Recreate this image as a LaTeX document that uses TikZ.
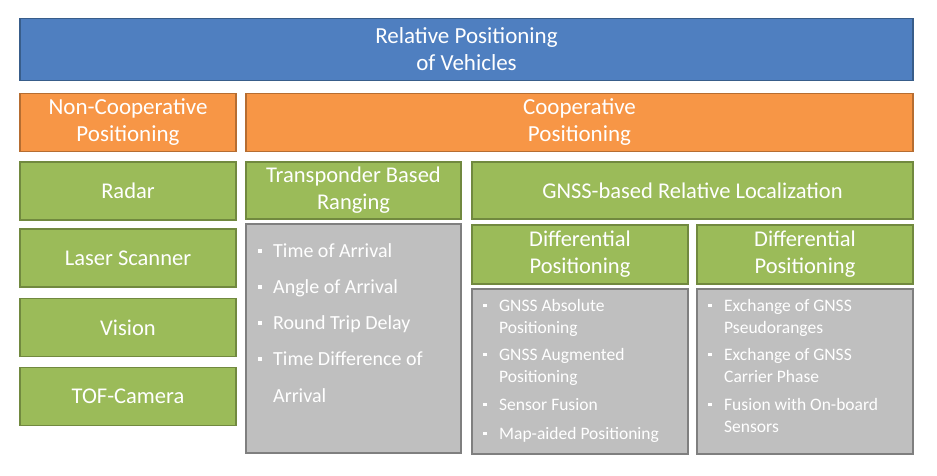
\documentclass[tikz,border=0pt]{standalone}
\usepackage{fontspec}
\setmainfont{Carlito}
\definecolor{bluef}{HTML}{4F7FC0}
\definecolor{blued}{HTML}{385D8A}
\definecolor{orangef}{HTML}{F79646}
\definecolor{oranged}{HTML}{B66D31}
\definecolor{greenf}{HTML}{9BBB59}
\definecolor{greend}{HTML}{71893F}
\definecolor{grayf}{HTML}{BFBFBF}
\definecolor{grayd}{HTML}{7F7F7F}
\tikzset{
  box/.style={draw, line width=1.5pt, inner sep=0pt, align=center, text=white},
  bluebox/.style={box, fill=bluef, draw=blued, font=\fontsize{23}{27}\selectfont},
  orangebox/.style={box, fill=orangef, draw=oranged, font=\fontsize{23}{27}\selectfont},
  greenbox/.style={box, fill=greenf, draw=greend, font=\fontsize{22.5}{27}\selectfont},
  graybox/.style={box, fill=grayf, draw=grayd},
  bigfont/.style={font=\fontsize{20}{36}\selectfont},
  smallfont/.style={font=\fontsize{17.5}{22}\selectfont},
  bigitem/.style={anchor=base west, inner sep=0pt, text=white, bigfont},
  smallitem/.style={anchor=base west, inner sep=0pt, text=white, smallfont},
  bul/.style={anchor=base, inner sep=0pt, text=white},
}
\newcommand{\sqbul}{\rule[0.45ex]{3.5pt}{3.5pt}}
\begin{document}
\begin{tikzpicture}[x=1pt,y=-1pt]
\useasboundingbox (0,0) rectangle (937,475);
% top
\node[bluebox, minimum width=893pt, minimum height=62pt] (root) at (466.5,49.5) {Relative Positioning\\of Vehicles};
% orange row
\node[orangebox, minimum width=216pt, minimum height=58pt] (noncoop) at (128,122.5) {Non-Cooperative\\Positioning};
\node[orangebox, minimum width=667pt, minimum height=58pt] (coop) at (579.5,122.5) {Cooperative\\Positioning};
% left column
\node[greenbox, minimum width=216pt, minimum height=58pt] (radar) at (128,191) {Radar};
\node[greenbox, minimum width=216pt, minimum height=58pt] (laser) at (128,258) {Laser Scanner};
\node[greenbox, minimum width=216pt, minimum height=58pt] (vision) at (128,327.5) {Vision};
\node[greenbox, minimum width=216pt, minimum height=58pt] (tof) at (128,396.5) {TOF-Camera};
% transponder
\node[greenbox, minimum width=215pt, minimum height=57pt] (trans) at (353.5,190.5) {Transponder Based\\Ranging};
\node[graybox, minimum width=215pt, minimum height=229pt] (transg) at (353.5,338.5) {};
% gnss
\node[greenbox, minimum width=441pt, minimum height=57pt] (gnss) at (692.5,190.5) {GNSS-based Relative Localization};
\node[greenbox, minimum width=216pt, minimum height=59pt] (diffa) at (580,254.5) {Differential\\Positioning};
\node[greenbox, minimum width=216pt, minimum height=59pt] (diffb) at (805,254.5) {Differential\\Positioning};
\node[graybox, minimum width=216pt, minimum height=165pt] (grayA) at (580,371.5) {};
\node[graybox, minimum width=216pt, minimum height=165pt] (grayB) at (805,371.5) {};
% transponder items
\node[bul, bigfont] (tb1) at (260,257) {\sqbul};
\node[bigitem] (ti1) at (273,257) {Time of Arrival};
\node[bul, bigfont] (tb2) at (260,293) {\sqbul};
\node[bigitem] (ti2) at (273,293) {Angle of Arrival};
\node[bul, bigfont] (tb3) at (260,329) {\sqbul};
\node[bigitem] (ti3) at (273,329) {Round Trip Delay};
\node[bul, bigfont] (tb4) at (260,365) {\sqbul};
\node[bigitem] (ti4) at (273,365) {Time Difference of};
\node[bigitem] (ti4b) at (273,402) {Arrival};
% differential A items
\node[bul, smallfont] (ab1) at (485,311) {\sqbul};
\node[smallitem] (ai1) at (499,311) {GNSS Absolute};
\node[smallitem] (ai1b) at (499,333) {Positioning};
\node[bul, smallfont] (ab2) at (485,360) {\sqbul};
\node[smallitem] (ai2) at (499,360) {GNSS Augmented};
\node[smallitem] (ai2b) at (499,382) {Positioning};
\node[bul, smallfont] (ab3) at (485,410) {\sqbul};
\node[smallitem] (ai3) at (499,410) {Sensor Fusion};
\node[bul, smallfont] (ab4) at (485,439) {\sqbul};
\node[smallitem] (ai4) at (499,439) {Map-aided Positioning};
% differential B items
\node[bul, smallfont] (bb1) at (710,311) {\sqbul};
\node[smallitem] (bi1) at (724,311) {Exchange of GNSS};
\node[smallitem] (bi1b) at (724,333) {Pseudoranges};
\node[bul, smallfont] (bb2) at (710,360) {\sqbul};
\node[smallitem] (bi2) at (724,360) {Exchange of GNSS};
\node[smallitem] (bi2b) at (724,382) {Carrier Phase};
\node[bul, smallfont] (bb3) at (710,410) {\sqbul};
\node[smallitem] (bi3) at (724,410) {Fusion with On-board};
\node[smallitem] (bi3b) at (724,432) {Sensors};
\end{tikzpicture}
\end{document}
